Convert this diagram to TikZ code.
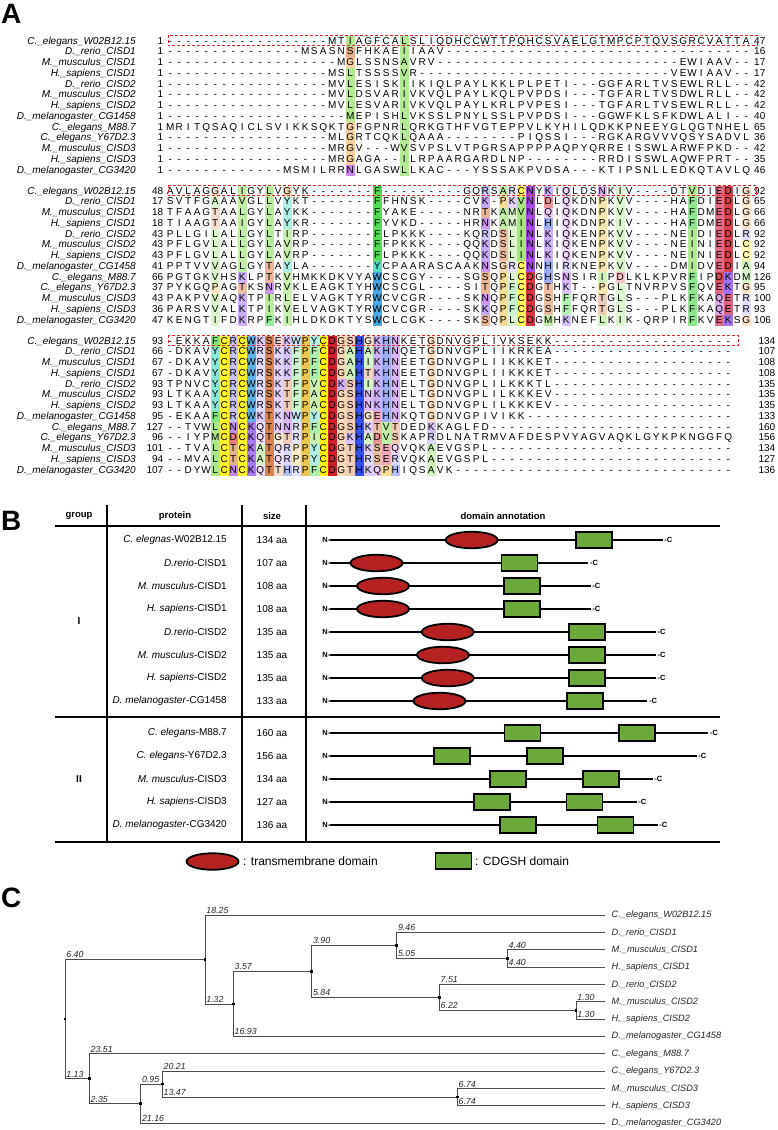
\documentclass[tikz,border=0pt]{standalone}
\usepackage{fontspec}
\setmainfont{Liberation Sans}
\usetikzlibrary{shapes.geometric}

\definecolor{cHyd}{RGB}{120,215,60}
\definecolor{cF}{RGB}{50,215,50}
\definecolor{cY}{RGB}{60,215,190}
\definecolor{cW}{RGB}{40,150,225}
\definecolor{cC}{RGB}{255,240,0}
\definecolor{cD}{RGB}{205,20,30}
\definecolor{cE}{RGB}{215,60,100}
\definecolor{cH}{RGB}{40,70,235}
\definecolor{cK}{RGB}{140,80,240}
\definecolor{cR}{RGB}{150,140,240}
\definecolor{cN}{RGB}{150,40,220}
\definecolor{cQ}{RGB}{205,140,225}
\definecolor{cST}{RGB}{210,110,50}
\definecolor{cG}{RGB}{240,170,90}
\definecolor{cP}{RGB}{230,180,20}
\definecolor{tmred}{RGB}{180,34,36}
\definecolor{cdgreen}{RGB}{108,168,58}
\definecolor{boxred}{RGB}{225,40,40}

\makeatletter
\newcount\blk \newcount\colidx \newcount\rowi
\newdimen\colw \colw=9pt
\def\D#1{\ifnum#1>0 -\expandafter\D\expandafter{\the\numexpr#1-1\relax}\fi}
\def\seqrow#1{\edef\seq@tmp{#1}\colidx=0 \expandafter\seq@aux\seq@tmp\relax}
\def\seq@aux#1{\ifx#1\relax\else\advance\colidx by 1 \seq@cell{#1}\expandafter\seq@aux\fi}
\def\seq@cell#1{%
  \ifcsname hl@\the\blk @\the\colidx\endcsname
    \ifcsname rn@#1\endcsname
      \edef\seq@c{\csname rn@#1\endcsname!\csname hl@\the\blk @\the\colidx\endcsname!white}%
      \rlap{\color{\seq@c}\rule[-2.9pt]{\colw}{10.75pt}}%
    \fi
  \fi
  \makebox[\colw]{#1}}
\def\hlc#1#2#3{\expandafter\def\csname hl@#1@#2\endcsname{#3}}
\def\rn#1#2{\expandafter\def\csname rn@#1\endcsname{#2}}
\makeatother

\rn A{cHyd}\rn I{cHyd}\rn L{cHyd}\rn M{cHyd}\rn V{cHyd}\rn F{cF}\rn Y{cY}\rn W{cW}
\rn C{cC}\rn D{cD}\rn E{cE}\rn H{cH}\rn K{cK}\rn R{cR}\rn N{cN}\rn Q{cQ}
\rn S{cST}\rn T{cST}\rn G{cG}\rn P{cP}

% block 1 highlighted columns
\hlc{1}{21}{55}\hlc{1}{27}{55}
% block 2
\hlc{2}{6}{25}\hlc{2}{9}{45}\hlc{2}{12}{50}\hlc{2}{14}{40}\hlc{2}{24}{85}
\hlc{2}{36}{50}\hlc{2}{38}{45}\hlc{2}{39}{25}\hlc{2}{40}{65}\hlc{2}{41}{85}
\hlc{2}{43}{45}\hlc{2}{45}{35}\hlc{2}{49}{35}\hlc{2}{51}{25}\hlc{2}{59}{55}
\hlc{2}{62}{75}\hlc{2}{63}{80}\hlc{2}{65}{30}
% block 3
\hlc{3}{6}{60}\hlc{3}{7}{85}\hlc{3}{8}{55}\hlc{3}{9}{85}\hlc{3}{10}{75}
\hlc{3}{11}{30}\hlc{3}{12}{85}\hlc{3}{13}{25}\hlc{3}{14}{35}\hlc{3}{15}{25}
\hlc{3}{16}{75}\hlc{3}{17}{40}\hlc{3}{18}{95}\hlc{3}{19}{95}\hlc{3}{20}{45}
\hlc{3}{21}{35}\hlc{3}{22}{95}\hlc{3}{23}{30}\hlc{3}{24}{45}\hlc{3}{25}{45}
\hlc{3}{26}{35}\hlc{3}{30}{35}

\newcommand\ablock[3]{\global\blk=#1\relax\global\rowi=0\relax\gdef\ybase{#2}\gdef\endmode{#3}}
\newcommand\arow[4]{%
  \pgfmathsetmacro\ythis{\ybase+\the\rowi*10.75}%
  \global\advance\rowi by 1\relax
  \node[nm] (nm-\the\blk-\the\rowi) at (136,\ythis) {#1};
  \node[num,anchor=base east] (st-\the\blk-\the\rowi) at (163.5,\ythis) {#2};
  \node[sq] (sq-\the\blk-\the\rowi) at (165.5,\ythis) {\seqrow{#3}};
  \ifnum\endmode=1
    \node[num,anchor=base west] (en-\the\blk-\the\rowi) at (754,\ythis) {#4};
  \else
    \node[num,anchor=base east] (en-\the\blk-\the\rowi) at (775.5,\ythis) {#4};
  \fi
}
\newcommand\brow[5]{%
  \node[prot] (p#1) at (227,#2) {#3};
  \node[sz] (z#1) at (272,#2) {#4};
  \node[nt] (N#1) at (330.5,#2) {N-};
  \coordinate (bs#1) at (330,#2);
  \coordinate (be#1) at (#5,#2);
  \node[ct] (C#1) at (#5+1.5,#2) {-C};
  \draw[bb] (bs#1) -- (be#1);
}

\tikzset{
  nm/.style={anchor=base east, inner sep=0, font=\fontsize{10}{12}\selectfont\itshape},
  num/.style={inner sep=0, font=\fontsize{10}{12}\selectfont},
  sq/.style={anchor=base west, inner sep=0, font=\fontsize{10}{12}\selectfont},
  redbox/.style={draw=boxred, line width=0.7pt, dash pattern=on 3pt off 2pt},
  panel/.style={anchor=base west, inner sep=0, font=\fontsize{28}{28}\selectfont\bfseries},
  hdr/.style={inner sep=0, font=\fontsize{9.5}{11}\selectfont\bfseries},
  tb/.style={line width=1.1pt},
  prot/.style={anchor=east, inner sep=0, font=\fontsize{10}{12}\selectfont},
  sz/.style={inner sep=0, font=\fontsize{10}{12}\selectfont},
  bb/.style={line width=2.2pt},
  tm/.style={ellipse, draw, line width=1.8pt, fill=tmred, minimum width=52pt, minimum height=16.5pt, inner sep=0},
  cd/.style={rectangle, draw, line width=1.8pt, fill=cdgreen, minimum width=36pt, minimum height=16.5pt, inner sep=0},
  nt/.style={anchor=east, inner sep=0, font=\fontsize{7.5}{8}\selectfont\bfseries},
  ct/.style={anchor=west, inner sep=0, font=\fontsize{7.5}{8}\selectfont\bfseries},
  grp/.style={inner sep=0, font=\fontsize{10}{12}\selectfont\bfseries},
  leg/.style={anchor=west, inner sep=0, font=\fontsize{12}{14}\selectfont},
  tr/.style={draw=black!70, line width=0.8pt},
  dot/.style={rectangle, fill=black, inner sep=0, minimum size=2.6pt},
  bl/.style={pos=0.5, anchor=south west, inner sep=1pt, font=\fontsize{8.8}{10}\selectfont\itshape, text=black!85},
  lf/.style={anchor=west, inner xsep=6.5pt, inner ysep=0, font=\fontsize{9.2}{11}\selectfont\itshape, text=black!85},
}

\begin{document}
\begin{tikzpicture}[x=1pt,y=-1pt]
\fill[white] (0,0) rectangle (777,1130);
\useasboundingbox (0,0) rectangle (777,1130);

% ================= Panel A =================
\node[panel] (pA) at (1,23.3) {A};

\ablock{1}{44}{1}
\arow{C.\_elegans\_W02B12.15}{1}{\D{18}MTIAGFCALSLIQDHCCWTTPQHCSVAELGTMPCPTQVSGRCVATTA}{47}
\arow{D.\_rerio\_CISD1}{1}{\D{15}MSASNSFHKAEIIAAV\D{34}}{16}
\arow{M.\_musculus\_CISD1}{1}{\D{19}MGLSSNSAVRV\D{27}EWIAAV--}{17}
\arow{H.\_sapiens\_CISD1}{1}{\D{18}MSLTSSSSVR\D{28}VEWIAAV--}{17}
\arow{D.\_rerio\_CISD2}{1}{\D{18}MVLESISKIIKIQLPAYLKKLPLPETI---GGFARLTVSEWLRLL--}{42}
\arow{M.\_musculus\_CISD2}{1}{\D{18}MVLDSVARIVKVQLPAYLKQLPVPDSI---TGFARLTVSDWLRLL--}{42}
\arow{H.\_sapiens\_CISD2}{1}{\D{18}MVLESVARIVKVQLPAYLKRLPVPESI---TGFARLTVSEWLRLL--}{42}
\arow{D.\_melanogaster\_CG1458}{1}{\D{20}MEPISHLVKSSLPNYLSSLPVPDSI---GGWFKLSFKDWLALI--}{40}
\arow{C.\_elegans\_M88.7}{1}{MRITQSAQICLSVIKKSQKTGFGPNRLQRKGTHFVGTEPPVLKYHILQDKKPNEEYGLQGTNHEL}{65}
\arow{C.\_elegans\_Y67D2.3}{1}{\D{18}MLGRTCQKLQAAA\D{8}PIQSSI---RGKARGVVVQSYSADVL}{36}
\arow{M.\_musculus\_CISD3}{1}{\D{18}MRGV---WVSVPSLVTPGRSAPPPPAQPYQRREISSWLARWFPKD--}{42}
\arow{H.\_sapiens\_CISD3}{1}{\D{18}MRGAGA--ILRPAARGARDLNP\D{8}RRDISSWLAQWFPRT--}{35}
\arow{D.\_melanogaster\_CG3420}{1}{\D{13}MSMILRRNLGASWLLKAC---YSSSAKPVDSA---KTIPSNLLEDKQTAVLQ}{46}
\draw[redbox] (168,35) rectangle (757,45.8);

\ablock{2}{194}{1}
\arow{C.\_elegans\_W02B12.15}{48}{AVLAGGALIGYLVGYK\D{7}F\D{9}GQRSARCNYKIQLDSNKIV----DTVDIEDIG}{92}
\arow{D.\_rerio\_CISD1}{17}{SVTFGAAAVGLLVYKT\D{7}FFHNSK----CVK-PKVNLDLQKDNPKVV----HAFDIEDLG}{65}
\arow{M.\_musculus\_CISD1}{18}{TFAAGTAALGYLAYKK\D{7}FYAKE-----NRTKAMVNLQIQKDNPKVV----HAFDMEDLG}{66}
\arow{H.\_sapiens\_CISD1}{18}{TIAAGTAAIGYLAYKR\D{7}FYVKD-----HRNKAMINLHIQKDNPKIV----HAFDMEDLG}{66}
\arow{D.\_rerio\_CISD2}{43}{PLLGILALLGYLTIRP\D{7}FLPKKK----KQRDSLINLKIQKENPKVV----NEIDIEDLR}{92}
\arow{M.\_musculus\_CISD2}{43}{PFLGVLALLGYLAVRP\D{7}FFPKKK----QQKDSLINLKIQKENPKVV----NEINIEDLC}{92}
\arow{H.\_sapiens\_CISD2}{43}{PFLGVLALLGYLAVRP\D{7}FLPKKK----QQKDSLINLKIQKENPKVV----NEINIEDLC}{92}
\arow{D.\_melanogaster\_CG1458}{41}{PPTVVVAGLGYTAYLA\D{7}YCPAARASCAAKNSGRCNNHIRKNEPKVV----DMIDVEDIA}{94}
\arow{C.\_elegans\_M88.7}{66}{PGTGKVHSKLPTKVHMKKDKVYAWCSCGY----SGSQPLCDGHSNSIRIPDLKLKPVRFIPDKDM}{126}
\arow{C.\_elegans\_Y67D2.3}{37}{PYKGQPAGTKSNRVKLEAGKTYHWCSCGL----SITQPFCDGTHKT--PGLTNVRPVSFQVEKTG}{95}
\arow{M.\_musculus\_CISD3}{43}{PAKPVVAQKTPIRLELVAGKTYRWCVCGR----SKNQPFCDGSHFFQRTGLS---PLKFKAQETR}{100}
\arow{H.\_sapiens\_CISD3}{36}{PARSVVALKTPIKVELVAGKTYRWCVCGR----SKKQPFCDGSHFFQRTGLS---PLKFKAQETR}{93}
\arow{D.\_melanogaster\_CG3420}{47}{KENGTIFDKRPFKIHLDKDKTYSWCLCGK----SKSQPLCDGMHKNEFLKIK-QRPIRFKVEKSG}{106}
\draw[redbox] (168,185) rectangle (756,195.8);

\ablock{3}{344}{2}
\arow{C.\_elegans\_W02B12.15}{93}{-EKKAFCRCWKSEKWPYCDGSHGKHNKETGDNVGPLIVKSEKK\D{20}}{134}
\arow{D.\_rerio\_CISD1}{66}{-DKAVYCRCWRSKKFPFCDGAHAKHNQETGDNVGPLIIKRKEA\D{20}}{107}
\arow{M.\_musculus\_CISD1}{67}{-DKAVYCRCWRSKKFPFCDGAHIKHNEETGDNVGPLIIKKKET\D{20}}{108}
\arow{H.\_sapiens\_CISD1}{67}{-DKAVYCRCWRSKKFPFCDGAHTKHNEETGDNVGPLIIKKKET\D{20}}{108}
\arow{D.\_rerio\_CISD2}{93}{TPNVCYCRCWRSKTFPVCDKSHIKHNELTGDNVGPLILKKKTL\D{20}}{135}
\arow{M.\_musculus\_CISD2}{93}{LTKAAYCRCWRSKTFPACDGSHNKHNELTGDNVGPLILKKKEV\D{20}}{135}
\arow{H.\_sapiens\_CISD2}{93}{LTKAAYCRCWRSKTFPACDGSHNKHNELTGDNVGPLILKKKEV\D{20}}{135}
\arow{D.\_melanogaster\_CG1458}{95}{-EKAAFCRCWKTKNWPYCDGSHGEHNKQTGDNVGPIVIKK\D{23}}{133}
\arow{C.\_elegans\_M88.7}{127}{--TVWLCNCKQTNNRPFCDGSHKTVTDEDKKAGLFD\D{27}}{160}
\arow{C.\_elegans\_Y67D2.3}{96}{--IYPMCDCKQTGTRPICDGKHADVSKAPRDLNATRMVAFDESPVYAGVAQKLGYKPKNGGFQ}{156}
\arow{M.\_musculus\_CISD3}{101}{--TVALCTCKATQRPPYCDGTHKSEQVQKAEVGSPL\D{27}}{134}
\arow{H.\_sapiens\_CISD3}{94}{--MVALCTCKATQRPPYCDGTHRSERVQKAEVGSPL\D{27}}{127}
\arow{D.\_melanogaster\_CG3420}{107}{--DYWLCNCKQTTHRPFCDGTHKQPHIQSAVK\D{31}}{136}
\draw[redbox] (168,335) rectangle (738,345.8);

% ================= Panel B =================
\node[panel] (pB) at (1,530) {B};
\node[hdr] (hg) at (79,516) {group};
\node[hdr] (hp) at (175,516) {protein};
\node[hdr] (hs) at (272,516) {size};
\node[hdr] (hd) at (503,516) {domain annotation};
\draw[tb] (55,526) -- (720,526);
\draw[tb] (55,717) -- (720,717);
\draw[tb] (55,842) -- (720,842);
\draw[tb] (107,505) -- (107,842);
\draw[tb] (242,505) -- (242,842);
\draw[tb] (306,505) -- (306,842);
\node[grp] (gI) at (79,621) {I};
\node[grp] (gII) at (79,779) {II};

\brow{1}{540}{\textit{C. elegnas}-W02B12.15}{134 aa}{662.7}
\brow{2}{563}{\textit{D.rerio}-CISD1}{107 aa}{588.3}
\brow{3}{586}{\textit{M. musculus}-CISD1}{108 aa}{590.7}
\brow{4}{609}{\textit{H. sapiens}-CISD1}{108 aa}{590.7}
\brow{5}{632}{\textit{D.rerio}-CISD2}{135 aa}{656}
\brow{6}{655}{\textit{M. musculus}-CISD2}{135 aa}{656}
\brow{7}{678}{\textit{H. sapiens}-CISD2}{135 aa}{656}
\brow{8}{701}{\textit{D. melanogaster}-CG1458}{133 aa}{647.3}
\brow{9}{733}{\textit{C. elegans}-M88.7}{160 aa}{708.3}
\brow{10}{756}{\textit{C. elegans}-Y67D2.3}{156 aa}{696.7}
\brow{11}{779}{\textit{M. musculus}-CISD3}{134 aa}{652.7}
\brow{12}{802}{\textit{H. sapiens}-CISD3}{127 aa}{636.7}
\brow{13}{825}{\textit{D. melanogaster}-CG3420}{136 aa}{657.7}

\node[tm] (t1) at (471.7,540) {};
\node[cd] (d1) at (594.2,540) {};
\node[tm] (t2) at (376.5,563) {};
\node[cd] (d2) at (519.5,563) {};
\node[tm] (t3) at (383,586) {};
\node[cd] (d3) at (522.2,586) {};
\node[tm] (t4) at (383,609) {};
\node[cd] (d4) at (522.2,609) {};
\node[tm] (t5) at (447.8,632) {};
\node[cd] (d5) at (587,632) {};
\node[tm] (t6) at (443,655) {};
\node[cd] (d6) at (587,655) {};
\node[tm] (t7) at (447.8,678) {};
\node[cd] (d7) at (587,678) {};
\node[tm] (t8) at (439.5,701) {};
\node[cd] (d8) at (585.3,701) {};
\node[cd] (d9a) at (522.5,733) {};
\node[cd] (d9b) at (637,733) {};
\node[cd] (d10a) at (452,756) {};
\node[cd] (d10b) at (545.3,756) {};
\node[cd] (d11a) at (507.8,779) {};
\node[cd] (d11b) at (601.2,779) {};
\node[cd] (d12a) at (492.2,802) {};
\node[cd] (d12b) at (584.5,802) {};
\node[cd] (d13a) at (518.3,825) {};
\node[cd] (d13b) at (615.5,825) {};

\node[tm] (lgt) at (212.5,861.5) {};
\node[leg] (lgtt) at (243,861.5) {: transmembrane domain};
\node[cd] (lgc) at (453.5,861) {};
\node[leg] (lgct) at (475,861) {: CDGSH domain};

% ================= Panel C =================
\node[panel] (pC) at (1,907.5) {C};

\node[lf] (L1) at (605,915) {C.\_elegans\_W02B12.15};
\node[lf] (L2) at (605,932.35) {D.\_rerio\_CISD1};
\node[lf] (L3) at (605,949.7) {M.\_musculus\_CISD1};
\node[lf] (L4) at (605,967.05) {H.\_sapiens\_CISD1};
\node[lf] (L5) at (605,984.4) {D.\_rerio\_CISD2};
\node[lf] (L6) at (605,1001.75) {M.\_musculus\_CISD2};
\node[lf] (L7) at (605,1019.1) {H.\_sapiens\_CISD2};
\node[lf] (L8) at (605,1036.45) {D.\_melanogaster\_CG1458};
\node[lf] (L9) at (605,1053.8) {C.\_elegans\_M88.7};
\node[lf] (L10) at (605,1071.15) {C.\_elegans\_Y67D2.3};
\node[lf] (L11) at (605,1088.5) {M.\_musculus\_CISD3};
\node[lf] (L12) at (605,1105.85) {H.\_sapiens\_CISD3};
\node[lf] (L13) at (605,1123.2) {D.\_melanogaster\_CG3420};

\coordinate (root) at (65,1019.1);
\coordinate (A) at (205,959.46);
\coordinate (B) at (233.3,1003.92);
\coordinate (C) at (311.7,971.39);
\coordinate (D) at (396.7,945.36);
\coordinate (E) at (507.3,958.38);
\coordinate (F) at (439.3,997.41);
\coordinate (G) at (576,1010.43);
\coordinate (H) at (89.3,1078.74);
\coordinate (I) at (140.7,1103.68);
\coordinate (J) at (162.3,1084.16);
\coordinate (K) at (457.3,1097.18);

\draw[tr] (root) |- node[bl]{6.40} (A);
\draw[tr] (root) |- node[bl]{1.13} (H);
\draw[tr] (A) |- node[bl]{18.25} (L1.west);
\draw[tr] (A) |- node[bl]{1.32} (B);
\draw[tr] (B) |- node[bl]{3.57} (C);
\draw[tr] (B) |- node[bl]{16.93} (L8.west);
\draw[tr] (C) |- node[bl]{3.90} (D);
\draw[tr] (C) |- node[bl]{5.84} (F);
\draw[tr] (D) |- node[bl]{9.46} (L2.west);
\draw[tr] (D) |- node[bl]{5.05} (E);
\draw[tr] (E) |- node[bl]{4.40} (L3.west);
\draw[tr] (E) |- node[bl]{4.40} (L4.west);
\draw[tr] (F) |- node[bl]{7.51} (L5.west);
\draw[tr] (F) |- node[bl]{6.22} (G);
\draw[tr] (G) |- node[bl]{1.30} (L6.west);
\draw[tr] (G) |- node[bl]{1.30} (L7.west);
\draw[tr] (H) |- node[bl]{23.51} (L9.west);
\draw[tr] (H) |- node[bl]{2.35} (I);
\draw[tr] (I) |- node[bl]{0.95} (J);
\draw[tr] (I) |- node[bl]{21.16} (L13.west);
\draw[tr] (J) |- node[bl]{20.21} (L10.west);
\draw[tr] (J) |- node[bl]{13.47} (K);
\draw[tr] (K) |- node[bl]{6.74} (L11.west);
\draw[tr] (K) |- node[bl]{6.74} (L12.west);

\foreach \n in {root,A,B,C,D,E,F,G,H,I,J,K}
  \node[dot] (dot-\n) at (\n) {};
\end{tikzpicture}
\end{document}
